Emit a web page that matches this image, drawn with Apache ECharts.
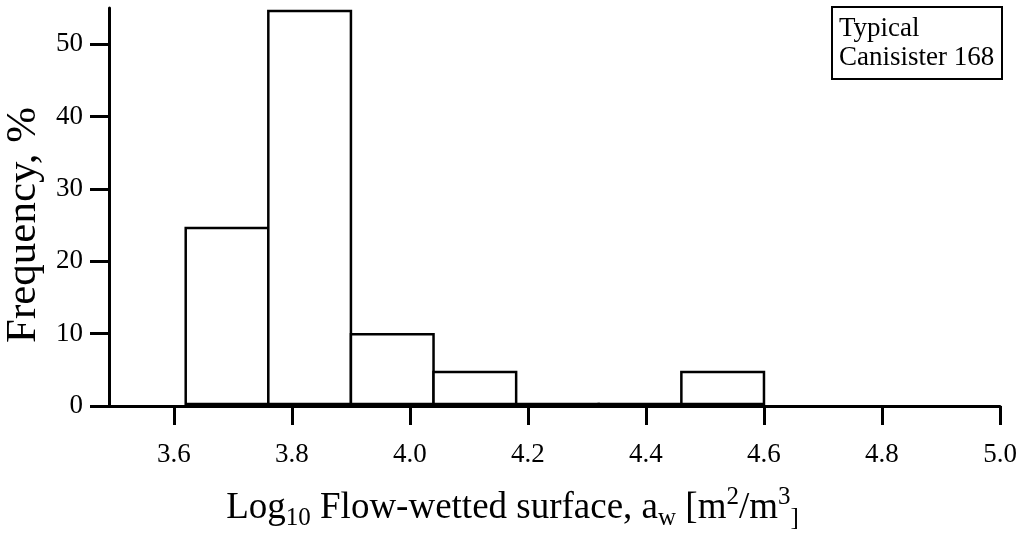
<!DOCTYPE html>
<html>
<head>
<meta charset="utf-8">
<script src="https://cdn.jsdelivr.net/npm/echarts@6/dist/echarts.min.js"></script>
<style>html,body{margin:0;padding:0;background:#fff}#c{width:1022px;height:536px}</style>
</head>
<body>
<div id="c"></div>
<script>
// Histogram bins (log10 flow-wetted surface) and frequencies (%)
const binStart = [3.62, 3.76, 3.90, 4.04, 4.18, 4.32, 4.46];
const binEnd   = [3.76, 3.90, 4.04, 4.18, 4.32, 4.46, 4.60];
const freq     = [24.6, 54.6, 9.9, 4.7, 0, 0, 4.7];
const xTicks = [3.6, 3.8, 4.0, 4.2, 4.4, 4.6, 4.8, 5.0];
const yTicks = [0, 10, 20, 30, 40, 50];
const boxLines = ['Typical', 'Canisister 168'];

const FONT = 'Liberation Serif';
const chart = echarts.init(document.getElementById('c'), null, {renderer: 'canvas'});
const data = binStart.map((s, i) => [s, binEnd[i], freq[i]]);

chart.setOption({
  animation: false,
  backgroundColor: '#fff',
  title: {
    text: boxLines.join('\n'),
    left: 832, top: 7,
    padding: [7, 8, 7, 7],
    borderColor: '#000', borderWidth: 2,
    textStyle: {fontFamily: FONT, fontSize: 27, fontWeight: 'normal', color: '#000', lineHeight: 29}
  },
  grid: {left: 109, right: 22, top: 8, bottom: 130, outerBoundsMode: 'none', containLabel: false},
  xAxis: {
    type: 'value', min: 3.49, max: 5.0,
    axisLine: {show: true, onZero: false, lineStyle: {color: '#000', width: 3}},
    axisTick: {show: true, customValues: xTicks, length: 19, lineStyle: {color: '#000', width: 3}},
    axisLabel: {customValues: xTicks, formatter: v => v.toFixed(1), fontFamily: FONT, fontSize: 27, color: '#000', margin: 35},
    splitLine: {show: false},
    name: '{n|Log}{sub|10}{n| Flow-wetted surface, a}{sub|w}{n| [m}{sup|2}{n|/m}{sup|3}{sub|]}',
    nameLocation: 'middle', nameGap: 79,
    nameTextStyle: {
      padding: [0, 84, 0, 0],
      rich: {
        n: {fontFamily: FONT, fontSize: 37, color: '#000', lineHeight: 46, verticalAlign: 'middle'},
        sub: {fontFamily: FONT, fontSize: 25, color: '#000', lineHeight: 46, verticalAlign: 'bottom'},
        sup: {fontFamily: FONT, fontSize: 25, color: '#000', lineHeight: 46, verticalAlign: 'top'}
      }
    }
  },
  yAxis: {
    type: 'value', min: 0, max: 55,
    axisLine: {show: true, lineStyle: {color: '#000', width: 3}},
    axisTick: {show: true, customValues: yTicks, length: 19, lineStyle: {color: '#000', width: 3}},
    axisLabel: {customValues: yTicks, fontFamily: FONT, fontSize: 27, color: '#000', margin: 26},
    splitLine: {show: false},
    name: 'Frequency, %',
    nameLocation: 'middle', nameGap: 60, nameRotate: 90,
    nameTextStyle: {fontFamily: FONT, fontSize: 43, color: '#000', padding: [0, 36, 0, 0]}
  },
  series: [{
    type: 'custom',
    data: data,
    encode: {x: [0, 1], y: 2},
    renderItem: function (params, api) {
      const p0 = api.coord([api.value(0), 0]);
      const p1 = api.coord([api.value(1), api.value(2)]);
      return {
        type: 'rect',
        shape: {x: p0[0], y: p1[1], width: p1[0] - p0[0], height: p0[1] - p1[1] - 2},
        style: {fill: '#fff', stroke: '#000', lineWidth: 2.5}
      };
    },
    z: 1
  }]
});
</script>
</body>
</html>
